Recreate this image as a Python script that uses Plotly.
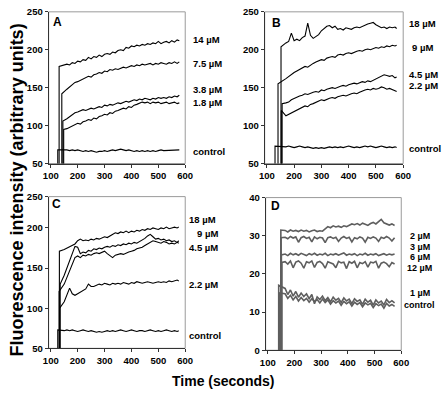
import plotly.graph_objects as go

FONT = "Liberation Sans, Arial, sans-serif"

# ---------------- Panel A ----------------
a_time = [160, 170, 180, 190, 200, 210, 220, 230, 240, 250, 260, 270, 280, 290, 300,
          310, 320, 330, 340, 350, 360, 370, 380, 390, 400, 410, 420, 430, 440, 450,
          460, 470, 480, 490, 500, 510, 520, 530, 540, 550, 560, 570, 578]
a_labels = ["14 µM", "7.5 µM", "3.8 µM", "1.8 µM", "control"]
a_inject = [131, 141, 145, 148, 126]
a_first = [178, 142, 106, 95, 68]
a_14uM = [181, 180, 183, 182, 185, 184, 187, 186, 190, 188, 191, 190, 193, 191, 194,
          195, 194, 197, 196, 199, 200, 199, 203, 202, 205, 204, 206, 205, 207, 206,
          208, 207, 209, 208, 211, 208, 210, 211, 209, 212, 210, 213, 212]
a_7_5uM = [148, 151, 154, 157, 158, 160, 162, 163, 165, 164, 167, 168, 170, 169, 172,
           171, 174, 173, 175, 174, 176, 177, 176, 178, 179, 178, 180, 179, 181, 180,
           181, 182, 180, 182, 181, 183, 182, 181, 183, 182, 184, 182, 184]
a_3_8uM = [109, 112, 115, 117, 118, 119, 121, 120, 122, 123, 122, 124, 125, 124, 127,
           126, 128, 127, 129, 130, 129, 131, 132, 131, 133, 134, 133, 135, 134, 136,
           135, 134, 136, 135, 137, 136, 137, 136, 138, 137, 139, 138, 140]
a_1_8uM = [96, 98, 100, 101, 103, 102, 105, 106, 108, 107, 110, 109, 112, 113, 115,
           114, 117, 116, 119, 120, 121, 123, 122, 125, 124, 127, 128, 129, 131, 130,
           131, 129, 131, 130, 131, 129, 130, 131, 129, 130, 131, 129, 130]
a_control = [68, 67, 68, 67, 68, 67, 66, 67, 66, 67, 66, 65, 66, 66, 67,
             66, 67, 68, 67, 68, 69, 68, 67, 68, 67, 66, 67, 66, 67, 66,
             67, 66, 67, 66, 67, 68, 67, 67, 68, 67, 68, 67, 68]

# ---------------- Panel B ----------------
b_time = [170, 180, 190, 200, 210, 220, 230, 240, 250, 260, 270, 280, 290, 300,
          310, 320, 330, 340, 350, 360, 370, 380, 390, 400, 410, 420, 430, 440, 450,
          460, 470, 480, 490, 500, 510, 520, 530, 540, 550, 560, 570, 576]
b_labels = ["18 µM", "9 µM", "4.5 µM", "2.2 µM", "control"]
b_inject = [152, 141, 156, 153, 130]
b_first = [204, 155, 129, 120, 73]
b_18uM = [209, 211, 222, 212, 214, 212, 216, 218, 235, 219, 215, 218, 220, 225,
          228, 231, 232, 229, 231, 227, 228, 226, 229, 228, 227, 229, 230, 229, 231,
          232, 234, 235, 236, 233, 231, 229, 230, 228, 230, 229, 230, 228]
b_9uM = [162, 165, 168, 170, 172, 174, 176, 178, 177, 180, 182, 184, 185, 187,
         186, 189, 190, 191, 190, 193, 194, 193, 195, 196, 195, 197, 198, 199, 198,
         200, 201, 200, 202, 203, 202, 204, 203, 205, 204, 206, 205, 206]
b_4_5uM = [130, 131, 134, 136, 137, 139, 140, 142, 141, 143, 144, 145, 144, 147,
           146, 148, 149, 150, 149, 151, 152, 153, 152, 154, 155, 156, 155, 157, 158,
           157, 159, 158, 160, 162, 163, 165, 167, 166, 165, 166, 163, 164]
b_2_2uM = [113, 115, 117, 119, 120, 122, 124, 126, 125, 128, 129, 131, 132, 134,
           133, 135, 136, 137, 136, 138, 139, 140, 139, 141, 142, 143, 142, 144, 146,
           147, 148, 147, 149, 148, 149, 151, 150, 148, 149, 147, 146, 145]
b_control = [72, 73, 72, 71, 72, 73, 72, 71, 72, 71, 70, 71, 70, 71,
             70, 71, 72, 71, 72, 71, 72, 71, 72, 73, 72, 71, 72, 71, 72,
             73, 72, 73, 72, 71, 72, 73, 72, 71, 72, 71, 72, 71]

# ---------------- Panel C ----------------
c_time = [150, 160, 170, 180, 190, 200, 210, 220, 230, 240, 250, 260, 270, 280, 290, 300,
          310, 320, 330, 340, 350, 360, 370, 380, 390, 400, 410, 420, 430, 440, 450,
          460, 470, 480, 490, 500, 510, 520, 530, 540, 550, 560, 570, 576]
c_labels = ["18 µM", "9 µM", "4.5 µM", "2.2 µM", "control"]
c_inject = [132, 135, 131, 133, 126]
c_first = [171, 130, 121, 100, 73]
c_18uM = [173, 175, 176, 178, 180, 184, 186, 184, 185, 184, 186, 185, 187, 186, 188, 189,
          188, 190, 192, 194, 193, 195, 194, 196, 194, 196, 195, 197, 196, 198, 197,
          199, 198, 200, 199, 198, 200, 199, 201, 199, 200, 201, 200, 201]
c_9uM = [141, 150, 158, 166, 177, 176, 168, 170, 169, 172, 171, 174, 173, 175, 174, 176,
         177, 176, 178, 177, 179, 178, 180, 179, 181, 180, 182, 181, 183, 184, 187,
         190, 192, 189, 186, 187, 185, 186, 184, 185, 183, 184, 182, 184]
c_4_5uM = [130, 138, 146, 154, 163, 165, 163, 166, 165, 167, 166, 168, 169, 168, 170, 171,
           168, 165, 163, 166, 167, 168, 167, 169, 170, 171, 172, 174, 175, 176, 178,
           180, 182, 184, 183, 182, 181, 183, 182, 180, 181, 180, 182, 181]
c_2_2uM = [108, 117, 125, 118, 116, 118, 120, 121, 124, 130, 127, 127, 129, 130, 129, 131,
           130, 129, 131, 130, 131, 130, 132, 131, 130, 132, 131, 133, 132, 131, 132,
           133, 132, 131, 132, 133, 132, 133, 132, 134, 133, 134, 135, 134]
c_control = [72, 73, 72, 73, 72, 71, 72, 73, 72, 71, 72, 71, 70, 71, 70, 71,
             72, 71, 72, 71, 72, 73, 72, 71, 72, 73, 72, 71, 72, 72, 71,
             72, 73, 72, 71, 72, 71, 72, 73, 72, 71, 72, 71, 72]

# ---------------- Panel D ----------------
d_time = [165, 175, 185, 195, 205, 215, 225, 235, 245, 255, 265, 275, 285, 295,
          305, 315, 325, 335, 345, 355, 365, 375, 385, 395, 405, 415, 425, 435,
          445, 455, 465, 475, 485, 495, 505, 515, 525, 535, 545, 555, 565, 575]
d_labels = ["2 µM", "3 µM", "6 µM", "12 µM", "1 µM", "control"]
d_inject = [149, 150, 151, 153, 141, 143]
d_first = [31.5, 29.5, 25.0, 23.0, 17.0, 15.0]
d_2uM = [31.4, 31.0, 31.5, 31.2, 31.4, 31.1, 31.5, 31.2, 31.4, 31.0, 31.3, 31.5, 31.1, 31.3,
         31.2, 31.9, 32.4, 32.1, 32.6, 32.3, 32.5, 32.2, 32.6, 32.4, 32.7, 33.1, 32.9, 33.2,
         32.8, 33.3, 33.0, 32.7, 33.2, 33.5, 33.1, 33.8, 34.3, 33.4, 33.0, 32.8, 33.1, 32.7]
d_3uM = [29.6, 29.2, 29.8, 29.4, 29.7, 28.3, 29.5, 29.8, 29.3, 29.6, 28.4, 29.7, 29.2, 29.6,
         29.4, 28.2, 29.5, 29.7, 29.3, 29.6, 28.5, 29.4, 29.8, 29.3, 29.6, 28.4, 29.5, 29.2,
         29.7, 29.4, 28.3, 29.6, 29.3, 29.7, 29.4, 28.5, 29.6, 29.3, 29.8, 29.4, 28.6, 29.5]
d_6uM = [25.2, 24.8, 25.4, 25.0, 25.3, 24.9, 25.4, 25.1, 24.8, 25.3, 25.0, 25.4, 24.9, 25.2,
         25.0, 25.4, 24.8, 25.2, 25.0, 25.3, 24.9, 25.2, 25.5, 24.9, 25.2, 25.0, 25.3, 24.8,
         25.2, 25.0, 25.4, 24.9, 25.2, 25.0, 25.3, 24.8, 25.1, 25.3, 24.9, 25.2, 25.0, 25.2]
d_12uM = [23.2, 22.6, 23.4, 21.6, 23.1, 23.4, 22.8, 21.5, 23.2, 22.9, 23.4, 21.7, 23.0, 23.3,
          22.7, 21.5, 23.2, 23.0, 22.6, 21.6, 23.3, 22.9, 23.1, 21.4, 23.2, 22.8, 23.3, 21.6,
          23.0, 22.7, 23.2, 21.8, 23.1, 22.9, 23.3, 21.5, 22.8, 23.1, 22.7, 21.9, 23.0, 22.6]
d_1uM = [16.2, 14.6, 15.8, 14.2, 15.4, 13.9, 15.0, 14.1, 14.8, 13.5, 14.6, 12.2, 14.0, 13.3,
         14.2, 13.0, 13.8, 12.7, 13.9, 13.1, 13.6, 12.5, 13.7, 12.9, 13.4, 12.2, 13.5, 12.8,
         13.2, 12.0, 13.4, 12.6, 13.1, 11.8, 13.2, 12.4, 12.9, 11.9, 13.3, 12.5, 13.0, 12.4]
d_control = [14.8, 13.6, 14.4, 13.2, 14.1, 12.9, 13.8, 13.0, 13.6, 12.6, 13.5, 12.8, 13.3, 12.4,
             13.4, 12.5, 13.2, 12.1, 13.0, 12.4, 12.9, 11.8, 12.8, 12.2, 12.7, 11.6, 12.6, 12.0,
             12.5, 11.4, 12.4, 11.9, 12.3, 11.2, 12.2, 11.7, 12.1, 11.0, 12.3, 11.6, 12.0, 11.5]

pre_injection_abc = 30     # signal before injection (below the visible range)
pre_injection_d = -5

x_ticks = [100, 200, 300, 400, 500, 600]
x_range = [92, 600]

# ---------------- figure ----------------
fig = go.Figure()

panels = [
    ("x", "y", a_time, a_inject, a_first, [a_14uM, a_7_5uM, a_3_8uM, a_1_8uM, a_control],
     pre_injection_abc, "black", 1.1),
    ("x2", "y2", b_time, b_inject, b_first, [b_18uM, b_9uM, b_4_5uM, b_2_2uM, b_control],
     pre_injection_abc, "black", 1.1),
    ("x3", "y3", c_time, c_inject, c_first, [c_18uM, c_9uM, c_4_5uM, c_2_2uM, c_control],
     pre_injection_abc, "black", 1.1),
    ("x4", "y4", d_time, d_inject, d_first, [d_2uM, d_3uM, d_6uM, d_12uM, d_1uM, d_control],
     pre_injection_d, "#5e5e5e", 1.6),
]

for xa, ya, tgrid, injects, firsts, series, pre, col, lw in panels:
    for t0, f0, vals in zip(injects, firsts, series):
        fig.add_trace(go.Scatter(
            x=[t0, t0] + tgrid, y=[pre, f0] + vals, xaxis=xa, yaxis=ya,
            mode="lines", line=dict(color=col, width=lw), hoverinfo="skip"))

tickfont = dict(family=FONT, size=9.5, color="black", weight="bold")
axis_common = dict(showline=True, linecolor="#333333", linewidth=1, mirror=False,
                   ticks="outside", ticklen=3, tickcolor="#333333", tickwidth=1,
                   showgrid=False, zeroline=False, tickfont=tickfont)

W, H = 448, 400
def dx(p0, p1):
    return [p0 / W, p1 / W]
def dy(top, bottom):
    return [1 - bottom / H, 1 - top / H]

layout = dict(
    width=W, height=H, margin=dict(l=0, r=0, t=0, b=0),
    paper_bgcolor="white", plot_bgcolor="white", showlegend=False,
    xaxis=dict(domain=dx(44, 185), range=x_range, tickvals=x_ticks, anchor="y", **axis_common),
    yaxis=dict(domain=dy(6, 162), range=[50, 250], tickvals=[50, 100, 150, 200, 250], anchor="x", **axis_common),
    xaxis2=dict(domain=dx(267, 410), range=x_range, tickvals=x_ticks, anchor="y2", **axis_common),
    yaxis2=dict(domain=dy(6, 162), range=[50, 250], tickvals=[50, 100, 150, 200, 250], anchor="x2", **axis_common),
    xaxis3=dict(domain=dx(44, 185), range=x_range, tickvals=x_ticks, anchor="y3", **axis_common),
    yaxis3=dict(domain=dy(196, 352), range=[50, 239], tickvals=[50, 100, 150, 200, 239],
                ticktext=["50", "100", "150", "200", "250"], anchor="x3", **axis_common),
    xaxis4=dict(domain=dx(268, 408), range=x_range, tickvals=x_ticks, anchor="y4", **axis_common),
    yaxis4=dict(domain=dy(197, 354), range=[0, 40], tickvals=[0, 10, 20, 30, 40], anchor="x4", **axis_common),
)
fig.update_layout(**layout)

# grey frame of each panel (top/right edges)
for xr, yr in [("x", "y"), ("x2", "y2"), ("x3", "y3"), ("x4", "y4")]:
    fig.add_shape(type="rect", xref=f"{xr} domain", yref=f"{yr} domain",
                  x0=0, x1=1, y0=0, y1=1, line=dict(color="#9a9a9a", width=1), layer="below")

lab_font = dict(family=FONT, size=9.5, color="black", weight="bold")
lab_font_d = dict(family=FONT, size=9, color="black", weight="bold")

def ann(text, px, py, anchor="left", font=lab_font, **kw):
    fig.add_annotation(text=text, x=px / W, y=1 - py / H, xref="paper", yref="paper",
                       xanchor=anchor, yanchor="middle", showarrow=False, font=font, **kw)

# series labels
for lab, py in zip(a_labels, [34, 59, 86, 99, 150]):
    ann(lab, 191, py)
for lab, px, py in zip(b_labels, [414, 417, 414, 414, 414], [18, 43, 70, 82, 147]):
    ann(lab, px, py)
for lab, px, py in zip(c_labels, [187, 195, 187, 187, 187], [220, 234, 248, 286, 339]):
    ann(lab, px, py)
for lab, py in zip(d_labels, [237, 248, 258, 269, 295, 307]):
    ann(lab, 427, py, anchor="center", font=lab_font_d)

# panel letters
pfont = dict(family=FONT, size=12, color="black", weight="bold")
for letter, px, py in [("A", 53, 16), ("B", 279, 17), ("C", 52, 204), ("D", 278, 206)]:
    ann(letter, px, py, anchor="center", font=pfont)

# axis titles
tfont = dict(family=FONT, size=18, color="black", weight="bold")
ann("Fluorescence intensity (arbitrary units)", 11, 189, anchor="center", font=tfont, textangle=-90)
ann("Time (seconds)", 224, 386, anchor="center", font=dict(family=FONT, size=14, color="black", weight="bold"))

# remove the default page margin so the 448x400 figure fills the window exactly
fig.write_html("out.html", config={"displayModeBar": False},
               post_script="document.body.style.margin='0';")
